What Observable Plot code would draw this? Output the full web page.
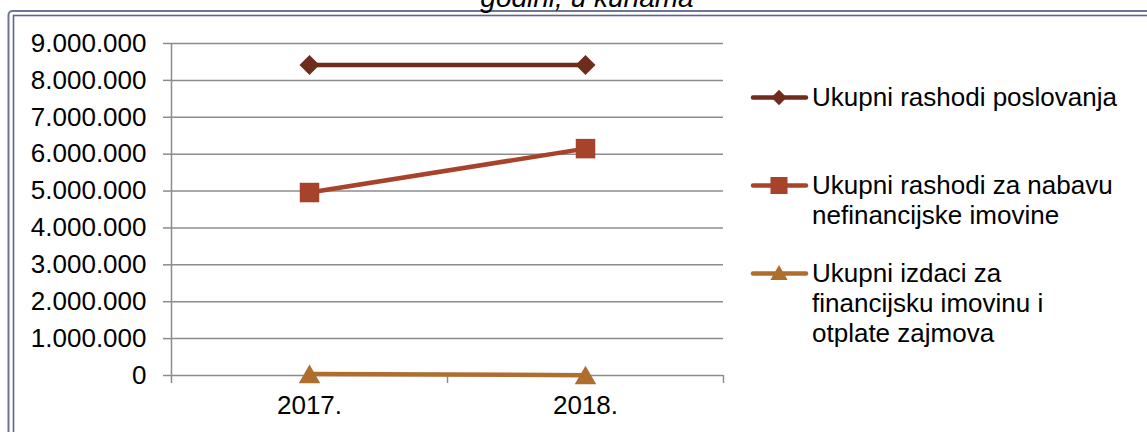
<!DOCTYPE html>
<html>
<head>
<meta charset="utf-8">
<script src="https://cdn.jsdelivr.net/npm/d3@7"></script>
<script src="https://cdn.jsdelivr.net/npm/@observablehq/plot@0.6"></script>
<style>
  html, body { margin: 0; padding: 0; background: #fff; }
  #chart { width: 1147px; height: 432px; overflow: hidden; }
</style>
</head>
<body>
<div id="chart"></div>
<script>
// ---- data ----
const categories = ["2017.", "2018."];
const seriesNames = [
  "Ukupni rashodi poslovanja",
  "Ukupni rashodi za nabavu nefinancijske imovine",
  "Ukupni izdaci za financijsku imovinu i otplate zajmova"
];
const legendLines = [
  ["Ukupni rashodi poslovanja"],
  ["Ukupni rashodi za nabavu", "nefinancijske imovine"],
  ["Ukupni izdaci za", "financijsku imovinu i", "otplate zajmova"]
];
const rashodiPoslovanja = [8420000, 8420000];
const rashodiNefinancijske = [4960000, 6150000];
const izdaciFinancijska = [40000, 10000];
const yTicks = [0, 1000000, 2000000, 3000000, 4000000, 5000000, 6000000, 7000000, 8000000, 9000000];
const titleText = "godini, u kunama";

// ---- styles ----
const colors = ["#6e2c1d", "#a8432b", "#ad6e2e"];
const symbols = ["diamond2", "square", "triangle"];
const gridColor = "#8c8c8c";
const font = "'Liberation Sans', Arial, sans-serif";

const seriesValues = [rashodiPoslovanja, rashodiNefinancijske, izdaciFinancijska];
const table = [];
seriesNames.forEach((s, si) => {
  categories.forEach((c, ci) => {
    table.push({series: s, si, category: c, xi: ci + 0.5, value: seriesValues[si][ci]});
  });
});

const fmt = d => d3.format(",")(d).replace(/,/g, ".");
const dotR = [9, 11, 8];
const dotDy = [0, 0, 3];

const plot = Plot.plot({
  width: 1147,
  height: 432,
  marginLeft: 171,
  marginRight: 424,
  marginTop: 43,
  marginBottom: 57,
  style: {fontSize: "26px", fontFamily: font, color: "#000", background: "#fff", overflow: "visible"},
  x: {type: "linear", domain: [0, 2]},
  y: {domain: [0, 9000000]},
  color: {domain: seriesNames, range: colors},
  symbol: {domain: seriesNames, range: symbols},
  marks: [
    Plot.gridY({ticks: yTicks, stroke: gridColor, strokeOpacity: 1, strokeWidth: 1.5}),
    Plot.axisY({ticks: yTicks, tickSize: 8, tickPadding: 17, tickFormat: fmt, stroke: gridColor, strokeWidth: 1.5, label: null}),
    Plot.ruleX([0], {stroke: gridColor, strokeWidth: 1.5}),
    Plot.axisX({ticks: [0, 1, 2], tickSize: 8, tickFormat: () => "", stroke: gridColor, strokeWidth: 1.5, label: null}),
    Plot.axisX({ticks: [0.5, 1.5], tickSize: 0, tickPadding: 20, tickFormat: v => categories[Math.floor(v)], label: null}),
    Plot.line(table, {x: "xi", y: "value", z: "series", stroke: "series", strokeWidth: 4.5}),
    ...seriesNames.map((s, si) =>
      Plot.dot(table.filter(d => d.si === si), {x: "xi", y: "value", fill: "series", symbol: "series", r: dotR[si], dy: dotDy[si], stroke: "none"})
    )
  ]
});

document.getElementById("chart").appendChild(plot);

// ---- frame, title and legend drawn into the same SVG ----
const svg = d3.select(plot);
const deco = svg.insert("g", ":first-child");
deco.append("rect").attr("x", 8.5).attr("y", 11).attr("width", 1300).attr("height", 600)
  .attr("rx", 4).attr("fill", "none").attr("stroke", "#6f7595").attr("stroke-width", 2);
deco.append("rect").attr("x", 13.5).attr("y", 15.5).attr("width", 1300).attr("height", 600)
  .attr("fill", "none").attr("stroke", "#5f6688").attr("stroke-width", 1.6);

svg.append("text")
  .attr("x", 587).attr("y", 7)
  .attr("text-anchor", "middle")
  .attr("font-style", "italic")
  .attr("font-size", 28)
  .attr("font-family", font)
  .attr("fill", "#000")
  .text(titleText);

const legend = svg.append("g").attr("font-family", font).attr("font-size", 26).attr("text-anchor", "start");
const legendBaselines = [106, 194, 282];
const legendSym = [d3.symbolDiamond2, d3.symbolSquare, d3.symbolTriangle];
const legendSize = [150, 290, 130];
legendLines.forEach((lines, i) => {
  const cy = legendBaselines[i] - 8.5;
  const g = legend.append("g");
  g.append("line").attr("x1", 753).attr("x2", 806).attr("y1", cy).attr("y2", cy)
    .attr("stroke", colors[i]).attr("stroke-width", 4.5).attr("stroke-linecap", "round");
  g.append("path").attr("d", d3.symbol(legendSym[i], legendSize[i])())
    .attr("transform", `translate(779,${cy + (i === 2 ? 1.5 : 0)})`).attr("fill", colors[i]);
  const t = g.append("text").attr("x", 812).attr("y", legendBaselines[i]).attr("fill", "#000").attr("text-anchor", "start");
  lines.forEach((ln, k) => {
    t.append("tspan").attr("x", 812).attr("dy", k === 0 ? 0 : 30).text(ln);
  });
});
</script>
</body>
</html>
